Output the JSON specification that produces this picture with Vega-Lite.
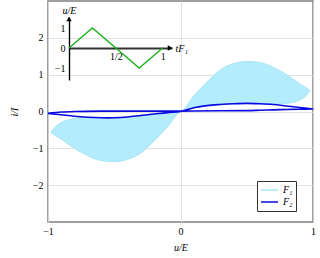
{
  "$schema": "https://vega.github.io/schema/vega-lite/v6.json",
  "width": 265,
  "height": 221,
  "autosize": {"type": "none"},
  "padding": {"left": 48, "top": 1, "right": 7, "bottom": 36},
  "background": "white",
  "config": {
    "view": {"stroke": "#808080", "strokeWidth": 1.5},
    "font": "Liberation Serif",
    "axis": {
      "labelFont": "Liberation Serif", "labelFontSize": 10, "labelColor": "black",
      "titleFont": "Liberation Serif", "titleFontStyle": "italic", "titleFontWeight": "normal",
      "titleFontSize": 10, "titleColor": "black",
      "ticks": false, "domain": false, "gridColor": "#dcdcdc", "gridWidth": 0.8
    },
    "legend": {
      "labelFont": "Liberation Serif", "labelFontStyle": "italic", "labelFontSize": 10, "labelColor": "black"
    }
  },
  "datasets": {
    "band": [
      {"series": "F₁", "x": -0.977, "lo": -0.57, "hi": -0.57},
      {"series": "F₁", "x": -0.95, "lo": -0.64, "hi": -0.44},
      {"series": "F₁", "x": -0.9, "lo": -0.75, "hi": -0.3},
      {"series": "F₁", "x": -0.85, "lo": -0.88, "hi": -0.23},
      {"series": "F₁", "x": -0.8, "lo": -1.0, "hi": -0.19},
      {"series": "F₁", "x": -0.7, "lo": -1.2, "hi": -0.16},
      {"series": "F₁", "x": -0.6, "lo": -1.33, "hi": -0.17},
      {"series": "F₁", "x": -0.5, "lo": -1.36, "hi": -0.17},
      {"series": "F₁", "x": -0.4, "lo": -1.3, "hi": -0.15},
      {"series": "F₁", "x": -0.3, "lo": -1.13, "hi": -0.11},
      {"series": "F₁", "x": -0.2, "lo": -0.8, "hi": -0.07},
      {"series": "F₁", "x": -0.1, "lo": -0.42, "hi": -0.03},
      {"series": "F₁", "x": 0, "lo": 0, "hi": 0},
      {"series": "F₁", "x": 0.1, "lo": 0.1, "hi": 0.42},
      {"series": "F₁", "x": 0.2, "lo": 0.16, "hi": 0.8},
      {"series": "F₁", "x": 0.3, "lo": 0.19, "hi": 1.13},
      {"series": "F₁", "x": 0.4, "lo": 0.21, "hi": 1.3},
      {"series": "F₁", "x": 0.5, "lo": 0.22, "hi": 1.36},
      {"series": "F₁", "x": 0.6, "lo": 0.21, "hi": 1.33},
      {"series": "F₁", "x": 0.7, "lo": 0.2, "hi": 1.2},
      {"series": "F₁", "x": 0.8, "lo": 0.22, "hi": 1.0},
      {"series": "F₁", "x": 0.85, "lo": 0.25, "hi": 0.88},
      {"series": "F₁", "x": 0.9, "lo": 0.31, "hi": 0.75},
      {"series": "F₁", "x": 0.95, "lo": 0.44, "hi": 0.64},
      {"series": "F₁", "x": 0.977, "lo": 0.57, "hi": 0.57}
    ],
    "loop2": [
      {"series": "F₂", "k": 1, "x": -1, "y": -0.05},
      {"series": "F₂", "k": 2, "x": -0.9, "y": -0.09},
      {"series": "F₂", "k": 3, "x": -0.8, "y": -0.13},
      {"series": "F₂", "k": 4, "x": -0.7, "y": -0.155},
      {"series": "F₂", "k": 5, "x": -0.6, "y": -0.17},
      {"series": "F₂", "k": 6, "x": -0.5, "y": -0.17},
      {"series": "F₂", "k": 7, "x": -0.4, "y": -0.15},
      {"series": "F₂", "k": 8, "x": -0.3, "y": -0.11},
      {"series": "F₂", "k": 9, "x": -0.2, "y": -0.07},
      {"series": "F₂", "k": 10, "x": -0.1, "y": -0.03},
      {"series": "F₂", "k": 11, "x": 0, "y": 0},
      {"series": "F₂", "k": 12, "x": 0.1, "y": 0.1},
      {"series": "F₂", "k": 13, "x": 0.2, "y": 0.16},
      {"series": "F₂", "k": 14, "x": 0.3, "y": 0.19},
      {"series": "F₂", "k": 15, "x": 0.4, "y": 0.21},
      {"series": "F₂", "k": 16, "x": 0.5, "y": 0.22},
      {"series": "F₂", "k": 17, "x": 0.6, "y": 0.21},
      {"series": "F₂", "k": 18, "x": 0.7, "y": 0.19},
      {"series": "F₂", "k": 19, "x": 0.8, "y": 0.15},
      {"series": "F₂", "k": 20, "x": 0.9, "y": 0.11},
      {"series": "F₂", "k": 21, "x": 1, "y": 0.07},
      {"series": "F₂", "k": 22, "x": 0.9, "y": 0.065},
      {"series": "F₂", "k": 23, "x": 0.8, "y": 0.055},
      {"series": "F₂", "k": 24, "x": 0.7, "y": 0.045},
      {"series": "F₂", "k": 25, "x": 0.6, "y": 0.035},
      {"series": "F₂", "k": 26, "x": 0.5, "y": 0.025},
      {"series": "F₂", "k": 27, "x": 0.3, "y": 0.02},
      {"series": "F₂", "k": 28, "x": 0, "y": 0.01},
      {"series": "F₂", "k": 29, "x": -0.3, "y": 0.01},
      {"series": "F₂", "k": 30, "x": -0.6, "y": 0.01},
      {"series": "F₂", "k": 31, "x": -0.8, "y": 0.0},
      {"series": "F₂", "k": 32, "x": -0.9, "y": -0.015},
      {"series": "F₂", "k": 33, "x": -1, "y": -0.05}
    ],
    "wave": [
      {"t": 0, "v": 0},
      {"t": 0.25, "v": 1},
      {"t": 0.75, "v": -1},
      {"t": 1, "v": 0}
    ],
    "tipUp": [{"t": 0, "v": 1.45}],
    "tipRight": [{"t": 1.08, "v": 0}]
  },
  "layer": [
    {
      "layer": [
        {
          "data": {"name": "band"},
          "mark": {"type": "area", "fill": "#b3ecfb", "interpolate": "monotone"},
          "encoding": {
            "x": {"field": "x", "type": "quantitative", "scale": {"domain": [-1, 1], "nice": false, "zero": false},
              "axis": {"values": [-1, 0, 1], "format": "~g", "grid": true, "labelFlush": false, "labelPadding": 4, "title": "u/E", "titleY": 25, "titleBaseline": "middle"}},
            "y": {"field": "lo", "type": "quantitative", "scale": {"domain": [-3, 3], "nice": false, "zero": false},
              "axis": {"values": [-2, -1, 0, 1, 2], "format": "~g", "grid": true, "labelPadding": 5, "title": "i/I", "titleX": -34, "titleY": 110.5, "titleAngle": 270, "titleBaseline": "middle", "titleAlign": "center"}},
            "y2": {"field": "hi"}
          }
        },
        {
          "data": {"name": "band"},
          "transform": [{"fold": ["lo", "hi"], "as": ["edge", "yy"]}],
          "mark": {"type": "line", "strokeWidth": 1, "interpolate": "monotone"},
          "encoding": {
            "x": {"field": "x", "type": "quantitative"},
            "y": {"field": "yy", "type": "quantitative"},
            "detail": {"field": "edge"},
            "color": {"field": "series", "type": "nominal",
              "scale": {"domain": ["F₁", "F₂"], "range": ["#a6e6f8", "#0a0ae0"]},
              "legend": {"title": null, "orient": "none", "legendX": 209, "legendY": 180, "strokeColor": "#333333", "fillColor": "white", "padding": 3, "symbolType": "stroke", "symbolSize": 289, "symbolStrokeWidth": 1.6, "rowPadding": 0, "clipHeight": 12, "labelOffset": 4}}
          }
        },
        {
          "data": {"name": "loop2"},
          "mark": {"type": "line", "strokeWidth": 1.6, "interpolate": "catmull-rom"},
          "encoding": {
            "x": {"field": "x", "type": "quantitative"},
            "y": {"field": "y", "type": "quantitative"},
            "order": {"field": "k", "type": "quantitative"},
            "color": {"field": "series", "type": "nominal"}
          }
        }
      ]
    },
    {
      "layer": [
        {
          "data": {"name": "wave"},
          "mark": {"type": "line", "color": "#1db31d", "strokeWidth": 1.4},
          "encoding": {
            "x": {"field": "t", "type": "quantitative", "scale": {"domain": [0, 1.1], "range": [21, 124], "nice": false, "zero": false},
              "axis": {"orient": "bottom", "offset": -174, "values": [0.5, 1], "labelExpr": "datum.value == 0.5 ? '1/2' : '1'", "grid": false, "domain": true, "domainColor": "#333333", "domainWidth": 1.8, "labelFlush": false, "labelPadding": 3, "title": "tF₁", "titleX": 127, "titleY": 0, "titleAlign": "left", "titleBaseline": "middle"}},
            "y": {"field": "v", "type": "quantitative", "scale": {"domain": [-1.6, 1.55], "range": [79, 16], "nice": false, "zero": false},
              "axis": {"orient": "left", "offset": -21, "values": [-1, 0, 1], "format": "~g", "grid": false, "domain": true, "domainColor": "black", "domainWidth": 1.4, "labelPadding": 4, "title": "u/E", "titleAngle": 0, "titleX": 0, "titleY": 9, "titleAlign": "center", "titleBaseline": "middle"}}
          }
        },
        {
          "data": {"name": "tipUp"},
          "mark": {"type": "point", "shape": "triangle-up", "filled": true, "color": "black", "size": 30, "opacity": 1},
          "encoding": {
            "x": {"field": "t", "type": "quantitative"},
            "y": {"field": "v", "type": "quantitative"}
          }
        },
        {
          "data": {"name": "tipRight"},
          "mark": {"type": "point", "shape": "triangle-right", "filled": true, "color": "black", "size": 30, "opacity": 1},
          "encoding": {
            "x": {"field": "t", "type": "quantitative"},
            "y": {"field": "v", "type": "quantitative"}
          }
        }
      ]
    }
  ],
  "resolve": {"scale": {"x": "independent", "y": "independent"}, "axis": {"x": "independent", "y": "independent"}}
}
